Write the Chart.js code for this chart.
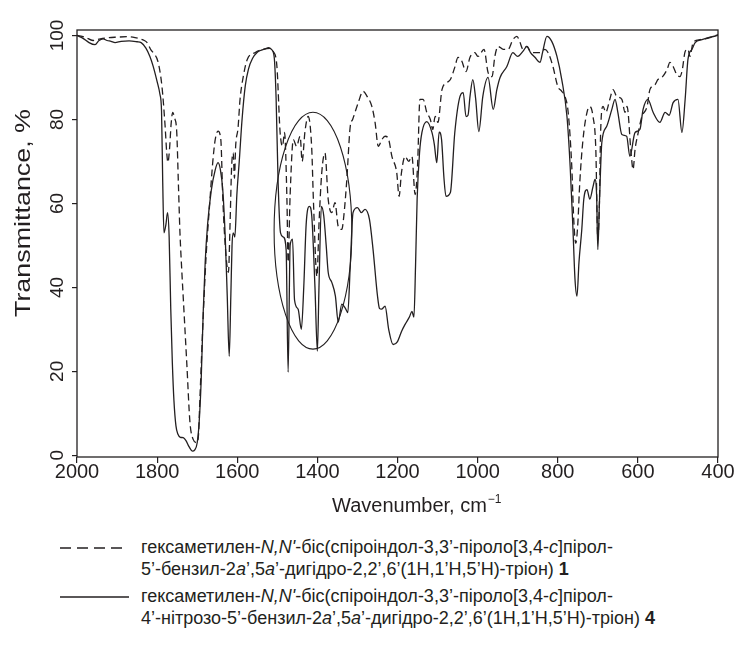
<!DOCTYPE html>
<html>
<head>
<meta charset="utf-8">
<script src="https://cdn.jsdelivr.net/npm/chart.js@4"></script>
<style>
  body { margin:0; background:#fff; }
  #wrap { position:relative; width:739px; height:659px; font-family:"Liberation Sans", Arial, sans-serif; color:#231f20; }
  #chart { position:absolute; left:0; top:0; }
  .lg { position:absolute; left:141px; font-size:18px; line-height:22px; white-space:nowrap; }
  .smp { position:absolute; left:60px; }
</style>
</head>
<body>
<div id="wrap">
  <canvas id="chart" width="739" height="530"></canvas>
  <svg class="smp" style="top:542px" width="70" height="12"><line x1="0" y1="6" x2="68" y2="6" stroke="#231f20" stroke-width="1.3" stroke-dasharray="11,6"/></svg>
  <div class="lg" style="top:536px">гексаметилен-<i>N,N'</i>-біс(спіроіндол-3,3’-піроло[3,4-<i>c</i>]пірол-<br>5’-бензил-2<i>a</i>’,5<i>a</i>’-дигідро-2,2’,6’(1H,1’H,5’H)-тріон) <b>1</b></div>
  <svg class="smp" style="top:591px" width="70" height="12"><line x1="0" y1="6" x2="69" y2="6" stroke="#231f20" stroke-width="1.3"/></svg>
  <div class="lg" style="top:585px">гексаметилен-<i>N,N'</i>-біс(спіроіндол-3,3’-піроло[3,4-<i>c</i>]пірол-<br>4’-нітрозо-5’-бензил-2<i>a</i>’,5<i>a</i>’-дигідро-2,2’,6’(1H,1’H,5’H)-тріон) <b>4</b></div>
</div>
<script>
// ---- data ----
// compound 1 (dashed)
const dashWn = [2000,1980,1960,1942,1920,1900,1875,1855,1843,1832,1825,1815,1810,1798,1788,1780,1776,1773,1769,1765,1761,1757,1751,1747,1743,1739,1735,1726,1718,1710,1701,1697,1693,1685,1678,1668,1661,1655,1648,1641,1636,1630,1622,1618,1614,1610,1607,1604,1598,1593,1585,1575,1556,1540,1518,1510,1501,1493,1487,1482,1476,1473,1468,1460,1452,1443,1438,1431,1423,1414,1410,1401,1396,1389,1381,1373,1364,1356,1348,1339,1334,1327,1318,1312,1298,1286,1276,1264,1256,1248,1239,1231,1222,1214,1202,1196,1190,1181,1172,1164,1156,1150,1144,1136,1127,1118,1112,1106,1099,1089,1076,1068,1057,1049,1040,1029,1019,1007,999,984,974,964,957,949,936,924,912,902,894,887,877,867,857,845,832,824,812,800,790,782,774,765,760,755,750,745,737,727,720,712,705,700,696,693,687,680,670,662,653,640,632,627,617,612,607,599,590,577,570,557,550,540,527,520,512,503,495,489,482,475,470,462,445,420,400];
const dashT  = [100,99.6,98.8,99.2,99.5,99.6,99.7,99.5,99.2,98.8,98.3,96.5,95.9,93.8,87.9,78.3,72,69.8,73,79,81.7,80.5,76.9,65,53,45,37.9,22,7.8,3.8,3,4.5,14,33,47,61,70,75.2,77.2,75.2,61,50,43.6,55,68.8,72,66,73.6,78,84.8,90.2,94.3,95.9,96.6,96.9,96.2,92.6,76.9,73.6,76.9,61,46,62,75.2,73.6,76,70,77.1,80.7,72.9,61,42.6,55,67.4,72,61,57.8,60.2,54.5,53.8,57,65,78.3,80,84,86.7,85.5,83.1,79.3,73.6,75.2,76,75.2,71.2,67.4,61.7,67.4,71.2,70,71.2,62.1,68.8,84.8,84.8,81.7,80,77.6,80.7,79.3,87.1,88.8,89.5,92.4,94.8,94,91.4,94.8,95.9,95,96.7,91.2,90.2,95,97.4,96.7,96.7,99,99.8,98.3,96.7,97.4,96,95.9,95.9,96.7,95.9,92.6,87.9,86.7,85.5,81.7,68.8,56,50.5,55,65,75.2,81.7,83.1,80.7,72.9,51.4,60,76.9,83.1,81.7,84.8,87.1,85.5,84.8,81.7,83.1,72,68.1,72.9,76.9,80.7,83.1,87.1,88.3,89.5,90,91.9,93.6,92.6,90.7,90.2,91.9,96.2,96.7,95,98.3,99,99.5,100.2];
// compound 4 (solid)
const solidWn = [2000,1985,1970,1955,1945,1935,1925,1915,1905,1890,1870,1850,1840,1828,1818,1810,1800,1793,1789,1786,1783,1778,1774,1770,1766,1762,1758,1753,1748,1742,1735,1728,1720,1712,1706,1700,1695,1690,1685,1680,1674,1665,1655,1648,1642,1636,1630,1625,1620,1616,1613,1610,1606,1601,1595,1588,1580,1572,1562,1550,1540,1530,1522,1515,1508,1503,1498,1492,1485,1478,1473,1468,1462,1457,1448,1440,1434,1428,1420,1414,1406,1400,1396,1390,1384,1378,1373,1364,1355,1348,1339,1330,1324,1318,1311,1300,1290,1281,1270,1261,1250,1245,1240,1231,1222,1211,1200,1190,1181,1170,1164,1159,1155,1151,1145,1139,1127,1114,1108,1102,1096,1090,1084,1079,1068,1057,1044,1036,1029,1024,1019,1012,1005,997,987,974,961,952,944,927,912,900,887,877,868,857,844,838,827,815,802,790,777,769,762,757,752,747,740,735,727,720,712,707,703,700,696,690,678,665,657,650,640,628,620,607,595,587,575,562,545,532,522,512,500,490,482,475,465,457,440,420,400];
const solidT  = [100,99.3,98.3,97.8,98.8,99.2,98.8,98.6,98.3,98.6,98.7,98.5,98.3,97,95,92.7,89,86,82,65,53,55,57.8,52,35,22,13,7,5,4.3,4.2,3.5,2,1,1.3,3,8,18,34,46,55,63,68,69.7,68,63,52,38,23.6,38,50,53,52,62,70,80,88,92,94.5,96,96.5,96.8,97.1,96.7,95,85,65,53,52,49,19.8,50,51.5,37,34.8,30,40,55,59.3,57,40,24.8,40,59.3,57,50,43.6,41.2,37.9,31.7,36,35,34,45,57.8,59,57.8,58.6,56.2,49,38,35,34.8,35.5,30,26.4,27.1,29.5,31.2,33,34.3,32.9,45,61,72,76.9,79.5,76.9,74,69.7,77,75.2,66,61.7,62.6,76.9,85.5,86.4,80.7,81,85.5,89.5,85,77.1,85.5,90,82.4,87.1,90,92.6,95.9,95,96.2,97.4,95.9,94.8,93.6,95.9,99.8,98.6,95,89.5,80.7,68.8,53.8,42,37.9,46,53.8,61,63.3,61,64,65.7,62,49,60,74.5,78.3,82.4,84.8,81.7,76.4,76,71.2,76.9,77.6,82.4,84.8,81.7,79.3,81.7,81,84,84.8,76.9,84.8,94.3,96.7,98.3,99,99.6,100];
// ellipse drawn round the 1500-1300 cm-1 region: centre [wn, T], radii [wn, T]
const ellipseCentre = [1411, 53.5];
const ellipseRadii = [97, 28.2];
const xTicks = [2000,1800,1600,1400,1200,1000,800,600,400];
const yTicks = [0,20,40,60,80,100];

const INK = '#231f20';
const FONT = '"Liberation Sans", Arial, sans-serif';

function pts(xs, ys){ return xs.map((v,i)=>({x:v, y:ys[i]})); }

// frame, ellipse, rotated y labels and axis titles
const extras = {
  id:'extras',
  afterDatasetsDraw(chart){
    const {ctx, chartArea:a, scales:{x,y}} = chart;
    ctx.save();
    ctx.strokeStyle = INK; ctx.lineWidth = 1.3;
    ctx.strokeRect(a.left, a.top, a.right-a.left, a.bottom-a.top);
    const cx = x.getPixelForValue(ellipseCentre[0]);
    const cy = y.getPixelForValue(ellipseCentre[1]);
    const rx = Math.abs(x.getPixelForValue(ellipseCentre[0]-ellipseRadii[0]) - cx);
    const ry = Math.abs(y.getPixelForValue(ellipseCentre[1]+ellipseRadii[1]) - cy);
    ctx.lineWidth = 1.1;
    ctx.beginPath(); ctx.ellipse(cx, cy, rx, ry, 0, 0, Math.PI*2); ctx.stroke();
    ctx.fillStyle = INK;
    // y tick labels, turned like the reference
    ctx.font = '19px '+FONT;
    ctx.textAlign = 'center'; ctx.textBaseline = 'middle';
    yTicks.forEach(v=>{
      ctx.save();
      ctx.translate(58, y.getPixelForValue(v));
      ctx.rotate(-Math.PI/2);
      ctx.fillText(String(v), 0, 0);
      ctx.restore();
    });
    // axis titles
    ctx.font = '20px '+FONT;
    ctx.textBaseline = 'alphabetic';
    ctx.textAlign = 'left';
    const t = 'Wavenumber, cm';
    const w = ctx.measureText(t).width;
    const x0 = 332;
    ctx.fillText(t, x0, 512);
    ctx.font = '12px '+FONT;
    ctx.fillText('\u22121', x0+w+1, 503);
    ctx.font = '22px '+FONT;
    const yt = 'Transmittance, %';
    const sx = 208 / ctx.measureText(yt).width;
    ctx.translate(30, 213);
    ctx.rotate(-Math.PI/2);
    ctx.scale(sx, 1);
    ctx.textAlign = 'center';
    ctx.fillText(yt, 0, 0);
    ctx.restore();
  }
};

const ctx = document.getElementById('chart').getContext('2d');
new Chart(ctx, {
  type:'scatter',
  data:{ datasets:[
    {label:'1', data:pts(dashWn,dashT), showLine:true, borderColor:INK, borderWidth:1.3, borderDash:[7,4], pointRadius:0, tension:0.4, cubicInterpolationMode:'monotone'},
    {label:'4', data:pts(solidWn,solidT), showLine:true, borderColor:INK, borderWidth:1.3, pointRadius:0, tension:0.4, cubicInterpolationMode:'monotone'}
  ]},
  options:{
    responsive:false, animation:false, events:[],
    layout:{ padding:{top:30, right:21, left:0, bottom:0} },
    plugins:{ legend:{display:false}, tooltip:{enabled:false} },
    scales:{
      x:{ type:'linear', reverse:true, min:400, max:2000,
          afterFit(s){ s.height = 73; },
          afterBuildTicks(s){ s.ticks = xTicks.map(v=>({value:v})); },
          border:{display:false},
          grid:{drawOnChartArea:false, drawTicks:true, tickLength:6, color:INK, lineWidth:1.2},
          ticks:{color:INK, font:{family:FONT, size:20}, padding:-3, maxRotation:0, callback:v=>String(v)} },
      y:{ type:'linear', min:-0.4, max:101.3,
          afterFit(s){ s.width = 77; },
          afterBuildTicks(s){ s.ticks = yTicks.map(v=>({value:v})); },
          border:{display:false},
          grid:{drawOnChartArea:false, drawTicks:true, tickLength:5, color:INK, lineWidth:1.2},
          ticks:{display:false} }
    }
  },
  plugins:[extras]
});
</script>
</body>
</html>
